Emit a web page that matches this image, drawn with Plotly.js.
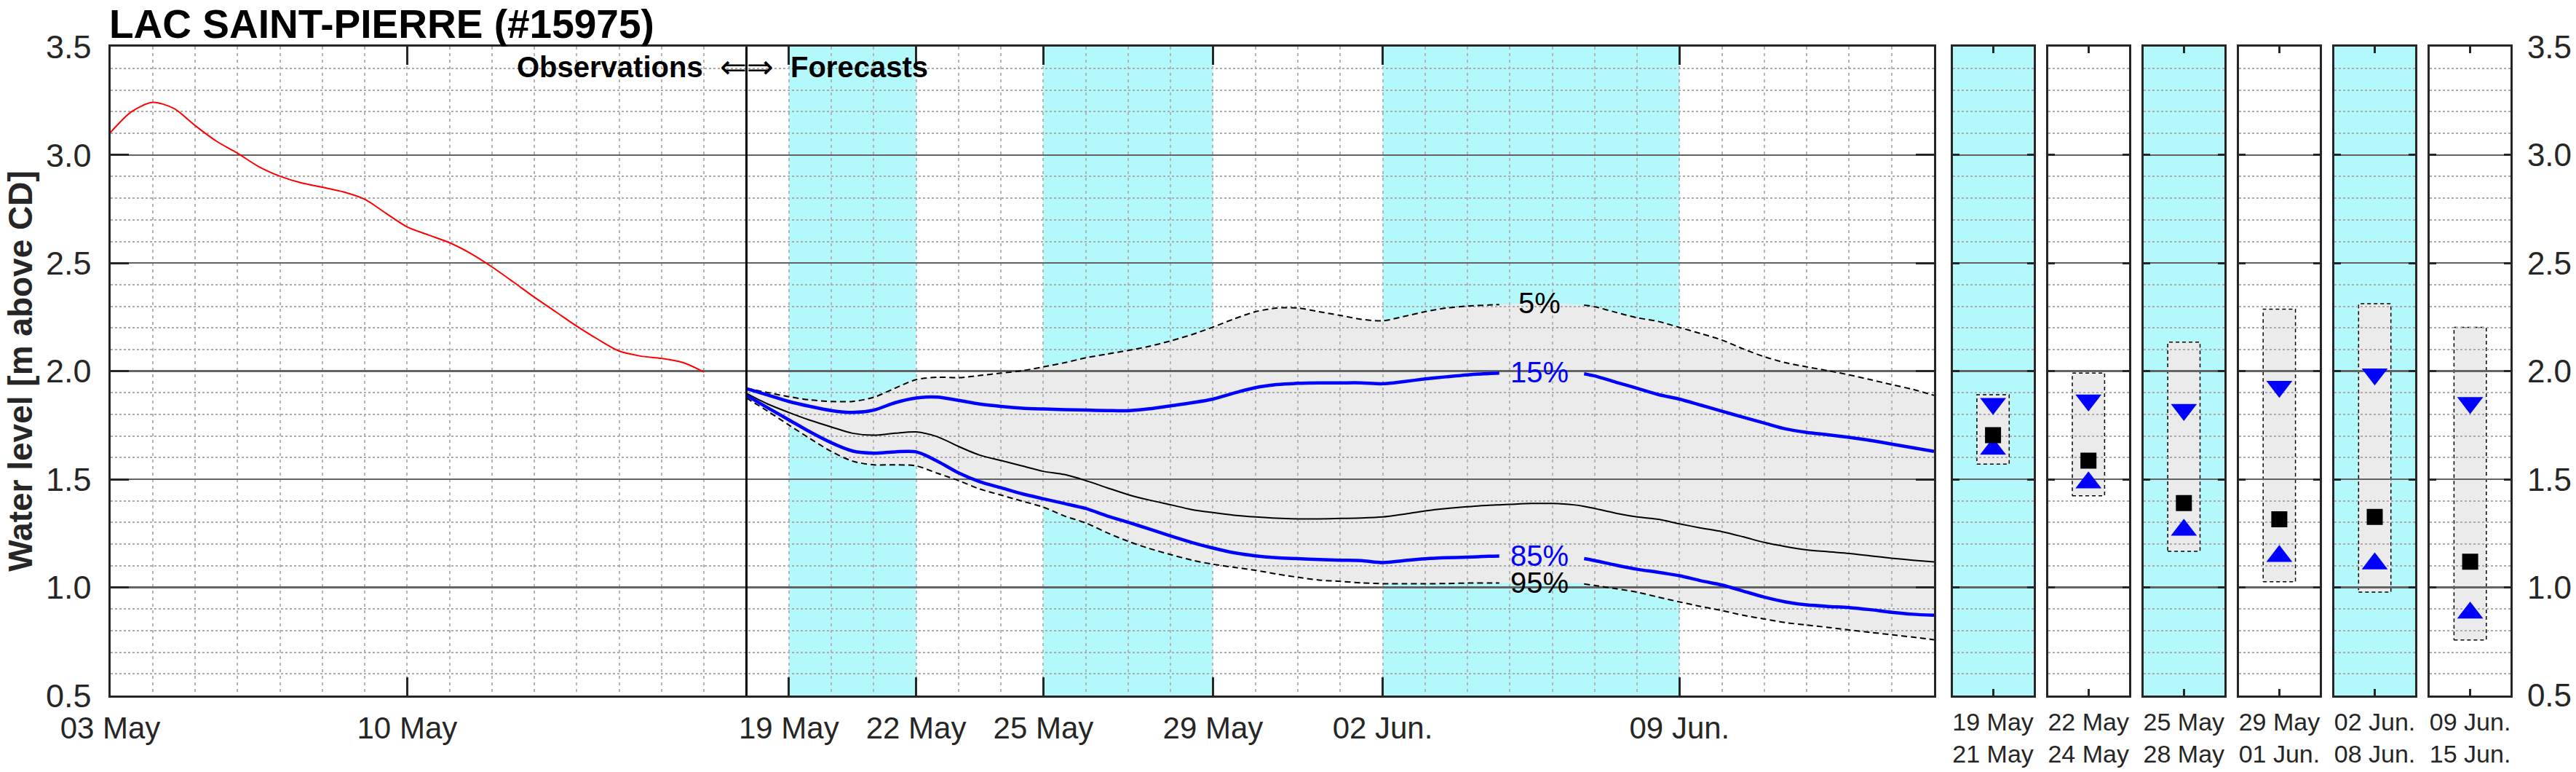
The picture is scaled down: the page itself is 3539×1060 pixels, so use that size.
<!DOCTYPE html>
<html>
<head>
<meta charset="utf-8">
<script src="https://cdn.plot.ly/plotly-3.0.1.min.js"></script>
<style>html,body{margin:0;padding:0;background:#fff;}#chart{width:3539px;height:1060px;}</style>
</head>
<body>
<div id="chart"></div>
<script>
// ---------------- DATA ----------------
const obsDates = ['2021-05-03 00:00','2021-05-03 12:00','2021-05-04 00:00','2021-05-04 12:00','2021-05-05 00:00','2021-05-05 12:00',
  '2021-05-06 00:00','2021-05-06 12:00','2021-05-07 00:00','2021-05-07 12:00','2021-05-08 00:00','2021-05-08 12:00',
  '2021-05-09 00:00','2021-05-09 12:00','2021-05-10 00:00','2021-05-10 12:00','2021-05-11 00:00','2021-05-11 12:00',
  '2021-05-12 00:00','2021-05-12 12:00','2021-05-13 00:00','2021-05-13 12:00','2021-05-14 00:00','2021-05-14 12:00',
  '2021-05-15 00:00','2021-05-15 12:00','2021-05-16 00:00','2021-05-16 12:00','2021-05-17 00:00'];
const obsLevel = [3.103,3.200,3.243,3.215,3.136,3.064,3.008,2.946,2.902,2.871,2.851,2.829,2.795,2.730,2.667,2.630,2.594,2.544,
  2.482,2.413,2.342,2.275,2.208,2.147,2.093,2.070,2.059,2.040,1.996];

const fcDates = ['2021-05-18 00:00','2021-05-18 12:00','2021-05-19 00:00','2021-05-19 12:00','2021-05-20 00:00','2021-05-20 12:00',
  '2021-05-21 00:00','2021-05-21 12:00','2021-05-22 00:00','2021-05-22 12:00','2021-05-23 00:00','2021-05-23 12:00',
  '2021-05-24 00:00','2021-05-24 12:00','2021-05-25 00:00','2021-05-25 12:00','2021-05-26 00:00','2021-05-26 12:00',
  '2021-05-27 00:00','2021-05-27 12:00','2021-05-28 00:00','2021-05-28 12:00','2021-05-29 00:00','2021-05-29 12:00',
  '2021-05-30 00:00','2021-05-30 12:00','2021-05-31 00:00','2021-05-31 12:00','2021-06-01 00:00','2021-06-01 12:00',
  '2021-06-02 00:00','2021-06-02 12:00','2021-06-03 00:00','2021-06-03 12:00','2021-06-04 00:00','2021-06-04 12:00','2021-06-04 18:00',
  '2021-06-05 00:00','2021-06-05 12:00','2021-06-06 00:00','2021-06-06 12:00','2021-06-06 18:00',
  '2021-06-07 00:00','2021-06-07 12:00','2021-06-08 00:00','2021-06-08 12:00','2021-06-09 00:00','2021-06-09 12:00',
  '2021-06-10 00:00','2021-06-10 12:00','2021-06-11 00:00','2021-06-11 12:00','2021-06-12 00:00','2021-06-12 12:00',
  '2021-06-13 00:00','2021-06-13 12:00','2021-06-14 00:00','2021-06-14 12:00','2021-06-15 00:00'];
const p05 = [1.921,1.901,1.882,1.867,1.860,1.860,1.879,1.921,1.961,1.972,1.970,1.980,1.991,2.002,2.020,2.039,2.062,2.079,
  2.096,2.115,2.140,2.169,2.204,2.242,2.275,2.292,2.292,2.275,2.258,2.240,2.233,2.253,2.275,2.292,2.301,2.306,2.308,
  2.310,2.315,2.315,2.309,2.305,
  2.298,2.272,2.247,2.230,2.202,2.174,2.144,2.103,2.067,2.039,2.020,2.002,1.983,1.961,1.938,1.916,1.888];
const p15 = [1.919,1.890,1.860,1.837,1.818,1.809,1.820,1.854,1.876,1.880,1.865,1.848,1.837,1.829,1.825,1.822,1.820,1.818,
  1.817,1.826,1.840,1.854,1.871,1.899,1.924,1.938,1.944,1.946,1.946,1.946,1.942,1.952,1.964,1.974,1.983,1.989,1.991,
  1.994,1.997,1.997,1.994,1.988,
  1.978,1.949,1.921,1.892,1.871,1.843,1.815,1.787,1.760,1.733,1.717,1.706,1.694,1.680,1.663,1.646,1.629];
const p50 = [1.897,1.848,1.809,1.773,1.742,1.713,1.704,1.713,1.719,1.697,1.652,1.612,1.587,1.562,1.537,1.522,1.494,1.461,
  1.429,1.404,1.382,1.360,1.346,1.334,1.326,1.320,1.317,1.317,1.319,1.321,1.326,1.339,1.354,1.365,1.373,1.380,1.382,
  1.384,1.388,1.388,1.382,1.375,
  1.365,1.343,1.326,1.315,1.294,1.275,1.258,1.234,1.208,1.189,1.174,1.165,1.157,1.146,1.135,1.126,1.118];
const p85 = [1.888,1.831,1.775,1.719,1.669,1.631,1.621,1.627,1.627,1.584,1.530,1.489,1.461,1.433,1.410,1.388,1.365,1.331,
  1.301,1.270,1.238,1.208,1.182,1.160,1.146,1.137,1.133,1.129,1.126,1.124,1.115,1.124,1.132,1.137,1.140,1.144,1.145,
  1.146,1.146,1.146,1.140,1.133,
  1.124,1.103,1.084,1.070,1.054,1.031,1.011,0.983,0.955,0.933,0.919,0.912,0.907,0.897,0.885,0.876,0.871];
const p95 = [1.876,1.815,1.751,1.688,1.629,1.584,1.567,1.567,1.562,1.528,1.494,1.455,1.427,1.399,1.371,1.330,1.298,1.253,
  1.213,1.180,1.152,1.126,1.107,1.093,1.079,1.062,1.047,1.034,1.028,1.021,1.017,1.017,1.017,1.018,1.020,1.020,1.020,
  1.020,1.021,1.022,1.020,1.016,
  1.009,0.994,0.978,0.955,0.933,0.912,0.893,0.871,0.854,0.837,0.826,0.815,0.803,0.792,0.781,0.770,0.758];

const xStart = '2021-05-03';
const xEnd = '2021-06-15';
const forecastStart = '2021-05-18';
const tickDates = ['2021-05-03','2021-05-10','2021-05-19','2021-05-22','2021-05-25','2021-05-29','2021-06-02','2021-06-09'];
const tickLabels = ['03 May','10 May','19 May','22 May','25 May','29 May','02 Jun.','09 Jun.'];
const bandStart = ['2021-05-19','2021-05-25','2021-06-02'];
const bandEnd   = ['2021-05-22','2021-05-29','2021-06-09'];

// contour labels
const labelDate = '2021-06-05 12:00';
const labelGap = ['2021-06-04 18:00','2021-06-06 18:00'];
const contourNames = ['5%','15%','85%','95%'];

// summary panels
const periodLabels = ['19 May<br>21 May','22 May<br>24 May','25 May<br>28 May','29 May<br>01 Jun.','02 Jun.<br>08 Jun.','09 Jun.<br>15 Jun.'];
const periodShaded = [true,false,true,false,true,false];
const per05 = [1.891,1.991,2.134,2.287,2.312,2.203];
const per15 = [1.850,1.866,1.822,1.929,1.986,1.854];
const per50 = [1.704,1.586,1.390,1.315,1.326,1.119];
const per85 = [1.640,1.484,1.265,1.144,1.110,0.882];
const per95 = [1.570,1.424,1.167,1.026,0.978,0.757];

// ---------------- STYLE / GEOMETRY ----------------
const W = 3539, H = 1060;
const FONT = 'Liberation Sans, Arial, Helvetica, sans-serif';
const AX = '#262626';
const CYAN = '#b3f8fa';
const GRAYFILL = '#ebebeb';
const yDom = [1 - 955 / H, 1 - 64.3 / H];
const mainDom = [151.5 / W, 2657 / W];
const panelLeft0 = 2682.6, panelPitch = 131.1, panelW = 111;
const panelDom = periodLabels.map((_, i) => [(panelLeft0 + i * panelPitch) / W, (panelLeft0 + i * panelPitch + panelW) / W]);

function withGap(vals) {
  return vals.map((v, i) => (fcDates[i] > labelGap[0] && fcDates[i] < labelGap[1]) ? null : v);
}

// ---------------- TRACES ----------------
// layer 1 (below grid): data subplots x/y, x2..x7/y2..y7  -> fills and boxes
// layer 2 (above grid): overlay subplots x8/y8, x9..x14/y9..y14 -> lines and markers
const traces = [];
const spl = {shape: 'spline', smoothing: 0.8};
traces.push({x: fcDates, y: p95, mode: 'lines', line: Object.assign({width: 0, color: GRAYFILL}, spl), xaxis: 'x', yaxis: 'y', hoverinfo: 'skip'});
traces.push({x: fcDates, y: p05, mode: 'lines', fill: 'tonexty', fillcolor: GRAYFILL, line: Object.assign({width: 0, color: GRAYFILL}, spl), xaxis: 'x', yaxis: 'y', hoverinfo: 'skip'});

const boxHalf = 0.2;
periodLabels.forEach((_, i) => {
  traces.push({x: [0.5 - boxHalf, 0.5 + boxHalf, 0.5 + boxHalf, 0.5 - boxHalf, 0.5 - boxHalf],
    y: [per95[i], per95[i], per05[i], per05[i], per95[i]], mode: 'lines', fill: 'toself', fillcolor: GRAYFILL,
    line: {color: '#000', width: 1.5, dash: '5px,4px'}, xaxis: 'x' + (i + 2), yaxis: 'y' + (i + 2)});
});

traces.push({x: fcDates, y: withGap(p05), mode: 'lines', line: Object.assign({width: 2, color: '#000', dash: '8px,5px'}, spl), xaxis: 'x8', yaxis: 'y8'});
traces.push({x: fcDates, y: withGap(p95), mode: 'lines', line: Object.assign({width: 2, color: '#000', dash: '8px,5px'}, spl), xaxis: 'x8', yaxis: 'y8'});
traces.push({x: fcDates, y: p50, mode: 'lines', line: Object.assign({width: 2, color: '#000'}, spl), xaxis: 'x8', yaxis: 'y8'});
traces.push({x: fcDates, y: withGap(p15), mode: 'lines', line: Object.assign({width: 4.5, color: '#0000ff'}, spl), xaxis: 'x8', yaxis: 'y8'});
traces.push({x: fcDates, y: withGap(p85), mode: 'lines', line: Object.assign({width: 4.5, color: '#0000ff'}, spl), xaxis: 'x8', yaxis: 'y8'});
traces.push({x: obsDates, y: obsLevel, mode: 'lines', line: Object.assign({width: 2, color: '#ff0000'}, spl), xaxis: 'x8', yaxis: 'y8'});

periodLabels.forEach((_, i) => {
  const xa = 'x' + (i + 9), ya = 'y' + (i + 9);
  traces.push({x: [0.5], y: [per15[i]], mode: 'markers', marker: {symbol: 'triangle-down', size: 31, color: '#0000ff'}, xaxis: xa, yaxis: ya});
  traces.push({x: [0.5], y: [per85[i]], mode: 'markers', marker: {symbol: 'triangle-up', size: 31, color: '#0000ff'}, xaxis: xa, yaxis: ya});
  traces.push({x: [0.5], y: [per50[i]], mode: 'markers', marker: {symbol: 'square', size: 22, color: '#000'}, xaxis: xa, yaxis: ya});
});

// ---------------- LAYOUT ----------------
const layout = {
  width: W, height: H,
  margin: {l: 0, r: 0, t: 0, b: 0},
  paper_bgcolor: '#ffffff',
  plot_bgcolor: 'rgba(0,0,0,0)',
  showlegend: false,
  shapes: [],
  annotations: []
};

// hidden data axes (bottom layer)
layout.xaxis = {type: 'date', range: [xStart, xEnd], domain: mainDom, anchor: 'y', visible: false};
layout.yaxis = {range: [0.5, 3.5], domain: yDom, anchor: 'x', visible: false};
periodLabels.forEach((_, i) => {
  layout['xaxis' + (i + 2)] = {range: [0, 1], domain: panelDom[i], anchor: 'y' + (i + 2), visible: false};
  layout['yaxis' + (i + 2)] = {range: [0.5, 3.5], domain: yDom, anchor: 'x' + (i + 2), visible: false};
});

function gridY(domain, anchor, ticklen, extra) {
  return Object.assign({
    domain: domain, anchor: anchor, range: [0.5, 3.5], tickmode: 'linear', tick0: 0.5, dtick: 0.5,
    showgrid: true, gridcolor: '#636363', gridwidth: 2.5,
    minor: {tick0: 0.5, dtick: 0.1, showgrid: true, gridcolor: '#ababab', gridwidth: 2, griddash: '3px,3px', ticks: ''},
    showline: true, linecolor: AX, linewidth: 3, mirror: 'ticks',
    ticks: 'inside', ticklen: ticklen, tickwidth: 3, tickcolor: AX,
    showticklabels: false, zeroline: false, tickformat: '.1f',
    tickfont: {family: FONT, size: 45, color: AX}
  }, extra || {});
}

// main overlay (grid, frame, ticks, labels, lines)
layout.xaxis8 = {
  type: 'date', range: [xStart, xEnd], domain: mainDom, anchor: 'y8',
  tickmode: 'array', tickvals: tickDates, ticktext: tickLabels,
  ticks: 'inside', ticklen: 25, tickwidth: 3, tickcolor: AX,
  showline: true, linecolor: AX, linewidth: 3, mirror: 'ticks',
  showgrid: true, gridcolor: '#b4b4b4', gridwidth: 2, griddash: '4px,5px',
  minor: {tick0: xStart, dtick: 86400000, showgrid: true, gridcolor: '#b4b4b4', gridwidth: 2, griddash: '4px,5px', ticks: ''},
  tickfont: {family: FONT, size: 42, color: AX}, ticklabelstandoff: 6, zeroline: false
};
layout.yaxis8 = gridY(yDom, 'x8', 25, {showticklabels: true, ticklabelstandoff: 14});

periodLabels.forEach((lab, i) => {
  const k = 9 + i;
  layout['xaxis' + k] = {
    range: [0, 1], domain: panelDom[i], anchor: 'y' + k,
    tickmode: 'array', tickvals: [0.5], ticktext: [lab],
    ticks: 'inside', ticklen: 9, tickwidth: 3, tickcolor: AX,
    showline: true, linecolor: AX, linewidth: 3, mirror: 'ticks', showgrid: false, zeroline: false,
    tickfont: {family: FONT, size: 34, color: AX}, ticklabelstandoff: 4
  };
  const extra = (i === periodLabels.length - 1) ? {showticklabels: true, side: 'right', ticklabelstandoff: 11, tickfont: {family: FONT, size: 44, color: AX}} : {};
  layout['yaxis' + k] = gridY(yDom, 'x' + k, 9, extra);
  if (periodShaded[i]) {
    layout.shapes.push({type: 'rect', xref: 'x' + (i + 2) + ' domain', yref: 'y' + (i + 2) + ' domain',
      x0: 0, x1: 1, y0: 0, y1: 1, fillcolor: CYAN, line: {width: 0}, layer: 'below'});
  }
});

// cyan forecast-period bands
bandStart.forEach((s, i) => {
  layout.shapes.push({type: 'rect', xref: 'x', yref: 'y domain', x0: s, x1: bandEnd[i], y0: 0, y1: 1,
    fillcolor: CYAN, line: {width: 0}, layer: 'below'});
});
// observation / forecast boundary
layout.shapes.push({type: 'line', xref: 'x', yref: 'y domain', x0: forecastStart, x1: forecastStart, y0: 0, y1: 1,
  line: {color: '#000', width: 3}, layer: 'above'});

// annotations
layout.annotations.push({xref: 'paper', yref: 'paper', x: 148 / W, y: 1, xanchor: 'left', yanchor: 'top',
  text: '<b>LAC SAINT-PIERRE (#15975)</b>', showarrow: false, font: {family: FONT, size: 55, color: '#000'}});

const obsY = 1 - 92 / H;
layout.annotations.push({xref: 'x', yref: 'paper', x: forecastStart, y: obsY, xanchor: 'right', yanchor: 'middle', xshift: -58,
  text: '<b>Observations</b>', showarrow: false, font: {family: FONT, size: 40, color: '#000'}});
layout.annotations.push({xref: 'x', yref: 'paper', x: forecastStart, y: obsY, xanchor: 'center', yanchor: 'middle',
  text: '⇐⇒', showarrow: false, font: {family: 'DejaVu Sans, ' + FONT, size: 44, color: '#000'}});
layout.annotations.push({xref: 'x', yref: 'paper', x: forecastStart, y: obsY, xanchor: 'left', yanchor: 'middle', xshift: 58,
  text: '<b>Forecasts</b>', showarrow: false, font: {family: FONT, size: 40, color: '#000'}});

layout.annotations.push({xref: 'paper', yref: 'paper', x: 0, y: (yDom[0] + yDom[1]) / 2, xanchor: 'left', yanchor: 'middle',
  textangle: -90, text: '<b>Water level [m above CD]</b>', showarrow: false, font: {family: FONT, size: 46, color: AX}});

const li = fcDates.indexOf(labelDate);
const labelSeries = [p05, p15, p85, p95];
const labelColors = ['#000', '#0000ff', '#0000ff', '#000'];
contourNames.forEach((n, j) => {
  layout.annotations.push({xref: 'x', yref: 'y', x: labelDate, y: labelSeries[j][li], xshift: 12,
    xanchor: 'center', yanchor: 'middle', text: n, showarrow: false, font: {family: FONT, size: 40, color: labelColors[j]}});
});

Plotly.newPlot('chart', traces, layout, {displayModeBar: false, staticPlot: true});
</script>
</body>
</html>
